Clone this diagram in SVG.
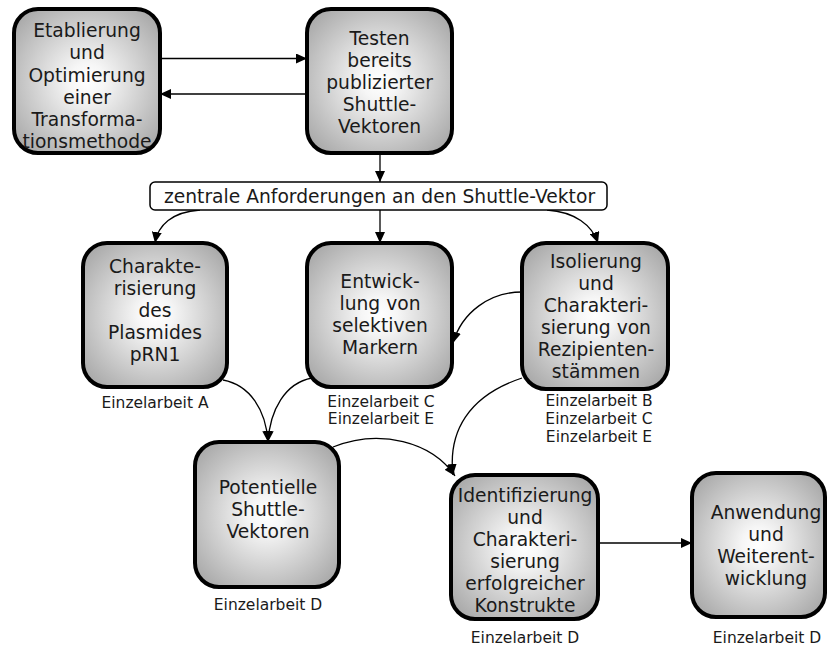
<svg xmlns="http://www.w3.org/2000/svg" width="828" height="647" viewBox="0 0 828 647">
<defs>
<radialGradient id="g" cx="50%" cy="50%" r="68%">
<stop offset="0" stop-color="#ffffff"/>
<stop offset="0.18" stop-color="#f6f6f6"/>
<stop offset="1" stop-color="#a2a2a2"/>
</radialGradient>
<marker id="ah" markerWidth="12" markerHeight="10" refX="11" refY="5" orient="auto" markerUnits="userSpaceOnUse">
<path d="M0,0 L11,5 L0,10 Z" fill="#000"/>
</marker>
<style>
.n{fill:url(#g);stroke:#000;stroke-width:4}
.t{font-family:"DejaVu Sans",Verdana,sans-serif;font-size:18.7px;fill:#1a1a1a;text-anchor:middle}
.l{font-family:"DejaVu Sans",Verdana,sans-serif;font-size:15.5px;fill:#1a1a1a;text-anchor:middle}
.c{fill:none;stroke:#000;stroke-width:1.3;marker-end:url(#ah)}
</style>
</defs>
<rect width="828" height="647" fill="#fff"/>
<g id="connectors">
<path class="c" d="M160,58.5 H307"/>
<path class="c" d="M307,94 H160"/>
<path class="c" d="M380,153 V182"/>
<path class="c" d="M200,210 C172,212 158,225 155,243"/>
<path class="c" d="M380,210 V243"/>
<path class="c" d="M547,210 C575,212 592,225 598,243"/>
<path class="c" d="M522,292 C490,292 462,312 453,343"/>
<path class="c" d="M223,380 C250,385 266,410 268,442"/>
<path class="c" d="M312,378 C285,383 270,410 268,442"/>
<path class="c" d="M333,447 C380,428 432,442 455,476"/>
<path class="c" d="M522,378 C468,396 448,432 453,475"/>
<path class="c" d="M598,543 H692"/>
</g>
<g id="etablierung">
<rect class="n" x="14" y="9" width="146" height="144" rx="24"/>
<text class="t"><tspan x="87" y="37">Etablierung</tspan><tspan x="87" y="59">und</tspan><tspan x="87" y="81.5">Optimierung</tspan><tspan x="87" y="104">einer</tspan><tspan x="87" y="126">Transforma-</tspan><tspan x="87" y="148">tionsmethode</tspan></text>
</g>
<g id="testen">
<rect class="n" x="307" y="9" width="145" height="144" rx="24"/>
<text class="t"><tspan x="379.5" y="45">Testen</tspan><tspan x="379.5" y="67">bereits</tspan><tspan x="379.5" y="89">publizierter</tspan><tspan x="379.5" y="111">Shuttle-</tspan><tspan x="379.5" y="133">Vektoren</tspan></text>
</g>
<g id="anforderungen">
<rect x="150" y="182" width="457" height="28" rx="5" fill="#fff" stroke="#000" stroke-width="1.5"/>
<text class="t" x="379.5" y="203">zentrale Anforderungen an den Shuttle-Vektor</text>
</g>
<g id="charakterisierung">
<rect class="n" x="83" y="243" width="144" height="144" rx="24"/>
<text class="t"><tspan x="155" y="273">Charakte-</tspan><tspan x="155" y="295">risierung</tspan><tspan x="155" y="317">des</tspan><tspan x="155" y="339">Plasmides</tspan><tspan x="155" y="361">pRN1</tspan></text>
<text class="l" x="155" y="408">Einzelarbeit A</text>
</g>
<g id="entwicklung">
<rect class="n" x="307" y="243" width="145" height="144" rx="24"/>
<text class="t"><tspan x="380" y="288">Entwick-</tspan><tspan x="380" y="310">lung von</tspan><tspan x="380" y="332">selektiven</tspan><tspan x="380" y="354">Markern</tspan></text>
<text class="l"><tspan x="381" y="407">Einzelarbeit C</tspan><tspan x="381" y="424">Einzelarbeit E</tspan></text>
</g>
<g id="isolierung">
<rect class="n" x="522" y="243" width="146" height="146" rx="24"/>
<text class="t"><tspan x="596" y="268">Isolierung</tspan><tspan x="596" y="290">und</tspan><tspan x="596" y="312">Charakteri-</tspan><tspan x="596" y="334">sierung von</tspan><tspan x="596" y="356">Rezipienten-</tspan><tspan x="596" y="378">stämmen</tspan></text>
<text class="l"><tspan x="599" y="406">Einzelarbeit B</tspan><tspan x="599" y="424">Einzelarbeit C</tspan><tspan x="599" y="442">Einzelarbeit E</tspan></text>
</g>
<g id="potentielle">
<rect class="n" x="195" y="442" width="144" height="145" rx="24"/>
<text class="t"><tspan x="268" y="494">Potentielle</tspan><tspan x="268" y="516">Shuttle-</tspan><tspan x="268" y="538">Vektoren</tspan></text>
<text class="l" x="268" y="610">Einzelarbeit D</text>
</g>
<g id="identifizierung">
<rect class="n" x="451" y="475" width="147" height="144" rx="24"/>
<text class="t"><tspan x="525" y="502">Identifizierung</tspan><tspan x="525" y="524">und</tspan><tspan x="525" y="546">Charakteri-</tspan><tspan x="525" y="568">sierung</tspan><tspan x="525" y="590">erfolgreicher</tspan><tspan x="525" y="612">Konstrukte</tspan></text>
<text class="l" x="525" y="643">Einzelarbeit D</text>
</g>
<g id="anwendung">
<rect class="n" x="692" y="473" width="133" height="144" rx="24"/>
<text class="t"><tspan x="766" y="519">Anwendung</tspan><tspan x="766" y="541">und</tspan><tspan x="766" y="563">Weiterent-</tspan><tspan x="766" y="585">wicklung</tspan></text>
<text class="l" x="767" y="643">Einzelarbeit D</text>
</g>
</svg>
